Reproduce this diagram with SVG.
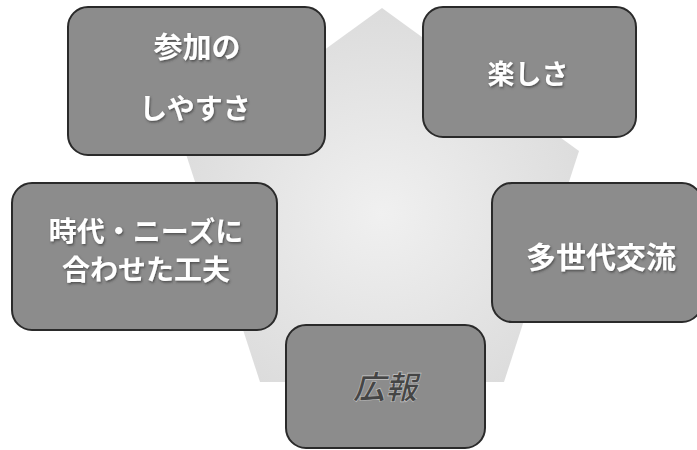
<svg xmlns="http://www.w3.org/2000/svg" width="697" height="450" viewBox="0 0 697 450">
<defs>
<radialGradient id="pg" cx="0.5" cy="0.55" r="0.6">
<stop offset="0" stop-color="#f0f0f0"/>
<stop offset="1" stop-color="#dadada"/>
</radialGradient>
<filter id="sh" x="-10%" y="-10%" width="120%" height="130%">
<feDropShadow dx="1" dy="1.5" stdDeviation="0.8" flood-color="#333" flood-opacity="0.7"/>
</filter>
</defs>
<style>
.box{fill:#8c8c8c;stroke:#2a2a2a;stroke-width:2}
.t{font-family:"Noto Sans CJK JP","Noto Sans CJK SC",sans-serif;font-weight:bold;fill:#ffffff;text-anchor:middle;dominant-baseline:central;filter:url(#sh)}
.d{font-family:"Noto Sans CJK JP","Noto Sans CJK SC",sans-serif;font-weight:bold;fill:#454545;stroke:#c8c8c8;stroke-width:0.6;text-anchor:middle;dominant-baseline:central;font-style:italic}
</style>
<rect width="697" height="450" fill="#ffffff"/>
<polygon id="pentagon" points="382,8 579,151 504,382 260,382 185,151" fill="url(#pg)"/>
<g id="connectors"></g>
<g id="node-sanka">
<rect class="box" x="68" y="7" width="257" height="148" rx="20"/>
<text class="t" x="197" y="45" font-size="29">参加の</text>
<text class="t" x="195" y="107" font-size="28">しやすさ</text>
</g>
<g id="node-tanoshisa">
<rect class="box" x="423" y="7" width="213" height="130" rx="20"/>
<text class="t" x="528" y="72" font-size="27">楽しさ</text>
</g>
<g id="node-jidai">
<rect class="box" x="12" y="183" width="265" height="147" rx="20"/>
<text class="t" x="146" y="230" font-size="28">時代・ニーズに</text>
<text class="t" x="146" y="268" font-size="28">合わせた工夫</text>
</g>
<g id="node-tasedai">
<rect class="box" x="492" y="183" width="210" height="139" rx="20"/>
<text class="t" x="601" y="255" font-size="30">多世代交流</text>
</g>
<g id="node-koho">
<rect class="box" x="286" y="325" width="199" height="123" rx="20"/>
<text class="d" x="385" y="385" font-size="32">広報</text>
</g>
</svg>
